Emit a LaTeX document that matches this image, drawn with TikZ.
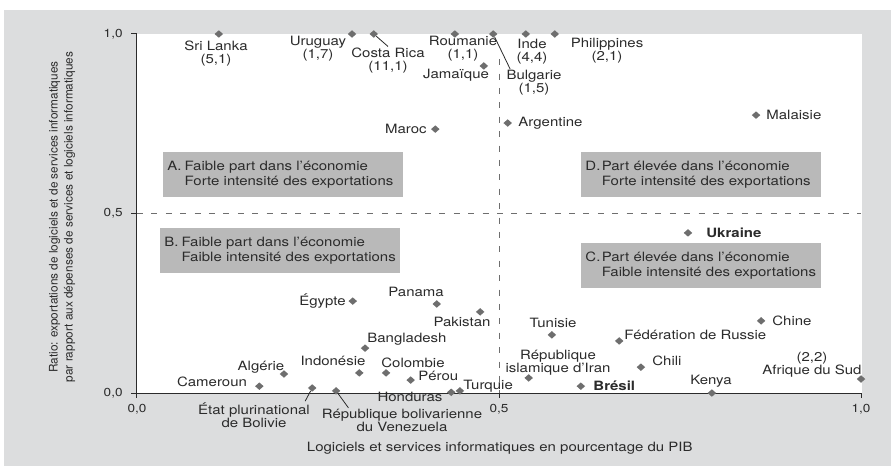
\documentclass[tikz,border=0pt]{standalone}
\usepackage{fontspec}
\setmainfont{TeX Gyre Heros}[FakeStretch=1.17]
\newfontfamily\narrowfont{TeX Gyre Heros}
\usetikzlibrary{shapes.geometric}

\definecolor{bggray}{HTML}{DCDDDE}
\definecolor{boxgray}{HTML}{B9B9B9}
\definecolor{markgray}{HTML}{6E6E6E}
\definecolor{txtgray}{HTML}{2B2B2B}
\newcommand\lblfont{\fontsize{6.4}{6.5}\selectfont}

\tikzset{
    ctry/.style={diamond, fill=markgray, inner sep=0pt, minimum width=4.4pt, minimum height=3.9pt},
    lbl/.style={font=\lblfont, text=txtgray, inner sep=0.5pt, align=center},
    hl/.style={lbl, font=\lblfont\bfseries},
    quad/.style={fill=boxgray, anchor=north west, text width=116pt, inner xsep=2pt,
        minimum height=22.5pt, font=\fontsize{6.4}{7.5}\selectfont, text=txtgray},
    lead/.style={draw=txtgray, line width=0.4pt},
    dashline/.style={draw=markgray, line width=0.4pt, dash pattern=on 3pt off 4.2pt}
}

\begin{document}
\begin{tikzpicture}[x=362pt, y=179.5pt]
    \useasboundingbox (-0.1892,-0.2033) rectangle (1.0414,1.0947);
    \fill[bggray] (-0.1837,-0.2033) rectangle (1.0414,1.0669);
    \fill[white] (0,0) rectangle (1.0014,1);

    % Quadrants
    \node[quad] (qa) at (0.0359,0.6713) {\begin{tabular}{@{}p{8.6pt}@{}l@{}}A. & Faible part dans l’économie\\ & Forte intensité des exportations\end{tabular}};
    \node[quad] (qb) at (0.0318,0.4596) {\begin{tabular}{@{}p{8.6pt}@{}l@{}}B. & Faible part dans l’économie\\ & Faible intensité des exportations\end{tabular}};
    \node[quad] (qd) at (0.6133,0.6713) {\begin{tabular}{@{}p{8.2pt}@{}l@{}}D. & Part élevée dans l’économie\\ & Forte intensité des exportations\end{tabular}};
    \node[quad] (qc) at (0.6133,0.4178) {\begin{tabular}{@{}p{8.2pt}@{}l@{}}C. & Part élevée dans l’économie\\ & Faible intensité des exportations\end{tabular}};

    \draw[dashline] (0,0.5) -- (1,0.5);
    \draw[dashline] (0.5,0.93) -- (0.5,0);

    % Axes
    \draw[txtgray, line width=0.5pt] (0,1) -- (0,0) -- (1,0);
    \foreach \v/\t [count=\i] in {0/{0,0}, 0.5/{0,5}, 1/{1,0}} {
        \draw[txtgray, line width=0.5pt] (0,\v) -- ++(-3pt,0);
        \draw[txtgray, line width=0.5pt] (\v,0) -- ++(0,-2.5pt);
        \node[lbl, anchor=east, font=\fontsize{5.8}{6}\selectfont] (ytick\i) at ([xshift=-6.5pt]0,\v) {\t};
        \node[lbl, anchor=north, font=\fontsize{5.8}{6}\selectfont] (xtick\i) at ([yshift=-5pt]\v,0) {\t};
    }
    \node[lbl, rotate=90, font=\narrowfont\fontsize{5.9}{7.5}\selectfont] (ytitle) at (-0.1036,0.49)
        {Ratio: exportations de logiciels et de services informatiques\\par rapport aux dépenses de services et logiciels informatiques};
    \node[lbl] (xtitle) at (0.501,-0.153) {Logiciels et services informatiques en pourcentage du PIB};

    % Countries
    \foreach \n/\x/\y in {sl/0.113/1, ur/0.297/1, cr/0.327/1, ro/0.439/1, bg/0.492/1,
        ind/0.537/1, ph/0.577/1, ja/0.479/0.911, mr/0.412/0.735, ar/0.512/0.752,
        my/0.855/0.774, ua/0.761/0.446, eg/0.298/0.256, pa/0.414/0.248, pk/0.474/0.226,
        bd/0.315/0.125, id/0.307/0.056, co/0.344/0.056, pe/0.378/0.036, hn/0.434/0.002,
        tr/0.446/0.006, dz/0.203/0.053, cm/0.169/0.019, bo/0.242/0.014, ve/0.275/0.006,
        tn/0.573/0.162, ru/0.666/0.145, cn/0.862/0.201, ir/0.541/0.042, cl/0.696/0.072,
        br/0.613/0.019, ke/0.794/0, za/1/0.039} {
        \node[ctry] (\n) at (\x,\y) {};
    }

    \node[lbl] (sl-l) at (0.1091,0.9457) {Sri Lanka\\(5,1)};
    \node[lbl] (ur-l) at (0.25,0.9582) {Uruguay\\(1,7)};
    \node[lbl] (cr-l) at (0.3467,0.9262) {Costa Rica\\(11,1)};
    \node[lbl] (ro-l) at (0.4503,0.9582) {Roumanie\\(1,1)};
    \node[lbl] (ja-l) at (0.4406,0.8858) {Jamaïque};
    \node[lbl] (bg-l) at (0.5483,0.8635) {Bulgarie\\(1,5)};
    \node[lbl] (ind-l) at (0.5456,0.9513) {Inde\\(4,4)};
    \node[lbl] (ph-l) at (0.6492,0.9526) {Philippines\\(2,1)};
    \node[lbl, anchor=east] (mr-l) at (0.4019,0.7354) {Maroc};
    \node[lbl, anchor=west] (ar-l) at (0.5249,0.7521) {Argentine};
    \node[lbl, anchor=west] (my-l) at (0.8674,0.7744) {Malaisie};
    \node[hl, anchor=west] (ua-l) at (0.7845,0.4457) {Ukraine};
    \node[lbl, anchor=east] (eg-l) at (0.2901,0.2563) {Égypte};
    \node[lbl] (pa-l) at (0.3854,0.2813) {Panama};
    \node[lbl] (pk-l) at (0.4489,0.1978) {Pakistan};
    \node[lbl] (bd-l) at (0.3729,0.1504) {Bangladesh};
    \node[lbl] (id-l) at (0.2707,0.0891) {Indonésie};
    \node[lbl] (co-l) at (0.3812,0.0836) {Colombie};
    \node[lbl, anchor=west] (pe-l) at (0.3867,0.0474) {Pérou};
    \node[lbl] (hn-l) at (0.3771,-0.0111) {Honduras};
    \node[lbl, anchor=west] (tr-l) at (0.4489,0.0195) {Turquie};
    \node[lbl] (dz-l) at (0.1713,0.0724) {Algérie};
    \node[lbl] (cm-l) at (0.1036,0.0306) {Cameroun};
    \node[lbl] (bo-l) at (0.1616,-0.0613) {État plurinational\\de Bolivie};
    \node[lbl] (ve-l) at (0.366,-0.0766) {République bolivarienne\\du Venezuela};
    \node[lbl] (tn-l) at (0.5746,0.195) {Tunisie};
    \node[lbl, anchor=west] (ru-l) at (0.6713,0.1616) {Fédération de Russie};
    \node[lbl, anchor=west] (cn-l) at (0.8757,0.2006) {Chine};
    \node[lbl] (ir-l) at (0.5815,0.085) {République\\islamique d’Iran};
    \node[lbl, anchor=west] (cl-l) at (0.7099,0.0891) {Chili};
    \node[hl, anchor=west] (br-l) at (0.6285,0.0195) {Brésil};
    \node[lbl] (ke-l) at (0.7928,0.0334) {Kenya};
    \node[lbl] (za-l) at (0.9323,0.078) {(2,2)\\Afrique du Sud};

    % Leaders
    \draw[lead] (cr) -- (cr-l.north);
    \draw[lead] (bg) -- ([xshift=2.5pt]bg-l.north west);
    \draw[lead] (bo) -- ([xshift=-3pt]bo-l.north east);
    \draw[lead] (ve) -- ([xshift=14pt]ve-l.north west);
\end{tikzpicture}
\end{document}
